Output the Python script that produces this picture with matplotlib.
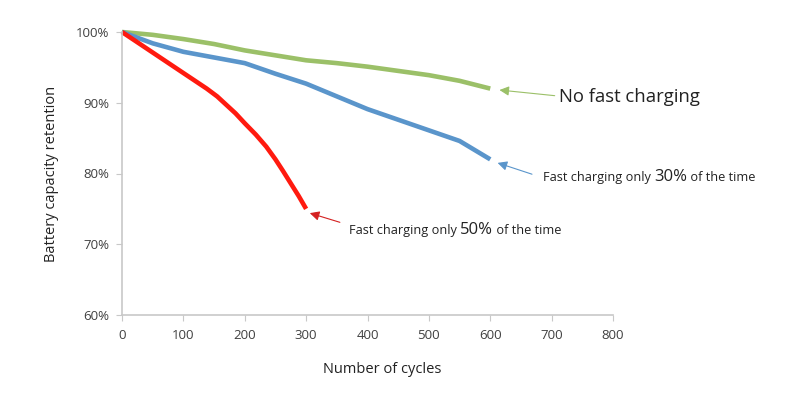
import matplotlib
matplotlib.use("Agg")
import matplotlib.pyplot as plt
from matplotlib.ticker import FuncFormatter

# values
cycles_none = [0, 50, 100, 150, 200, 250, 300, 350, 400, 450, 500, 550, 600]
ret_none = [100, 99.6, 99.0, 98.3, 97.4, 96.7, 96.0, 95.6, 95.1, 94.5, 93.9, 93.1, 92.0]

cycles_30 = [0, 50, 100, 150, 200, 250, 300, 350, 400, 450, 500, 550, 600]
ret_30 = [100, 98.4, 97.2, 96.4, 95.6, 94.1, 92.7, 90.9, 89.1, 87.6, 86.1, 84.6, 82.0]

cycles_50 = [0, 50, 100, 138, 155, 170, 185, 200, 218, 235, 250, 262, 275, 288, 300]
ret_50 = [100, 97.1, 94.2, 92.0, 90.9, 89.7, 88.5, 87.1, 85.5, 83.8, 82.0, 80.4, 78.6, 76.8, 75.0]

green = "#9BC068"
blue = "#5A95CB"
red = "#FF1A0F"
grey_txt = "#404040"

plt.rcParams["font.family"] = ["Open Sans", "DejaVu Sans"]

fig = plt.figure(figsize=(7.87, 4.08), dpi=100)
ax = fig.add_axes([122 / 787, 1 - 315 / 408, (613 - 122) / 787, (315 - 32) / 408])

for xs, ys, c in [(cycles_none, ret_none, green), (cycles_30, ret_30, blue), (cycles_50, ret_50, red)]:
    ax.plot(xs, ys, color=c, lw=3.3, solid_capstyle="butt", solid_joinstyle="round", clip_on=False)

ax.set_xlim(0, 800)
ax.set_ylim(60, 100)
ax.set_xticks(range(0, 801, 100))
ax.set_yticks(range(60, 101, 10))
ax.yaxis.set_major_formatter(FuncFormatter(lambda v, p: f"{v:.0f}%"))

for s in ["top", "right"]:
    ax.spines[s].set_visible(False)
for s in ["left", "bottom"]:
    ax.spines[s].set_color("#C8C8C8")
    ax.spines[s].set_linewidth(1.2)
ax.tick_params(axis="both", colors="#C8C8C8", labelcolor=grey_txt, labelsize=9.5, length=4)
ax.tick_params(axis="x", pad=6)
ax.tick_params(axis="y", pad=5)

ax.set_xlabel("Number of cycles", fontsize=10.5, color="#222222")
ax.xaxis.set_label_coords(0.53, -0.165)
ax.set_ylabel("Battery capacity retention", fontsize=10.5, color="#222222", labelpad=12)


def label(parts, x, y):
    # draw a run of text pieces of different sizes, side by side
    renderer = fig.canvas.get_renderer()
    t = ax.text(x, y, parts[0][0], fontsize=parts[0][1], color="#222222",
                va="baseline", ha="left", clip_on=False)
    for txt, size in parts[1:]:
        ext = t.get_window_extent(renderer)
        base = ax.transData.transform((x, y))[1]
        xd, _ = ax.transData.inverted().transform((ext.x1, base))
        t = ax.text(xd, y, txt, fontsize=size, color="#222222",
                    va="baseline", ha="left", clip_on=False)


def arrow(tip, tail, color):
    ax.annotate("", xy=tip, xytext=tail, annotation_clip=False,
                arrowprops=dict(arrowstyle="-|>", color=color, lw=0.8,
                                mutation_scale=14, shrinkA=0, shrinkB=0))


arrow((615, 91.8), (705, 91.0), green)
label([("No fast charging", 13.3)], 712, 90.1)

arrow((612, 81.5), (668, 79.9), blue)
label([("Fast charging only ", 9.2), ("30%", 12), (" of the time", 9.2)], 686, 79.0)

arrow((306, 74.4), (355, 73.1), "#D42020")
label([("Fast charging only ", 9.2), ("50%", 12), (" of the time", 9.2)], 370, 71.5)

fig.savefig("out.png", dpi=100)
